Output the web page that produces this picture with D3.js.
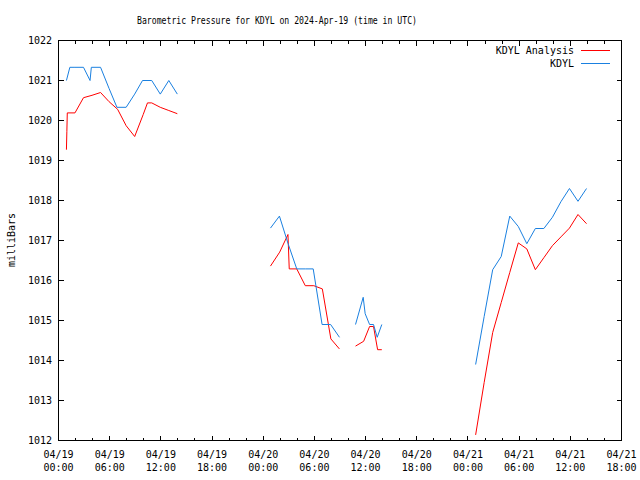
<!DOCTYPE html>
<html>
<head>
<meta charset="utf-8">
<script src="https://cdn.jsdelivr.net/npm/d3@7"></script>
<style>
  html, body { margin: 0; padding: 0; background: #fff; }
  svg { display: block; }
  text { font-family: "DejaVu Sans Mono", "Liberation Mono", monospace; font-size: 10px; fill: #000; }
</style>
</head>
<body>
<svg id="chart" width="640" height="480"></svg>
<script>
// ---- data (hours since 2024-04-19 00:00 UTC; null = gap) ----
const analysisHours = [0.93,0.98,1.03,1.93,2.93,3.93,4.93,5.93,6.93,7.93,8.93,9.93,10.43,10.93,11.93,12.93,13.93,
  null,24.85,25.93,26.9,27.05,27.93,28.93,29.93,30.93,31.93,32.93,
  null,34.82,35.77,36.47,36.93,37.41,37.9,
  null,48.9,49.9,50.9,51.9,52.9,53.9,54.9,55.9,56.9,57.9,58.9,59.9,60.9,61.9];
const analysisValues = [1019.27,1019.73,1020.19,1020.19,1020.57,1020.63,1020.7,1020.47,1020.28,1019.87,1019.6,1020.15,1020.44,1020.44,1020.33,1020.25,1020.17,
  null,1016.36,1016.71,1017.15,1016.29,1016.29,1015.87,1015.87,1015.79,1014.54,1014.29,
  null,1014.36,1014.48,1014.85,1014.85,1014.27,1014.27,
  null,1012.14,1013.45,1014.7,1015.45,1016.2,1016.94,1016.79,1016.27,1016.57,1016.87,1017.09,1017.31,1017.65,1017.42];

const obsHours = [0.93,1.33,1.93,2.93,3.7,3.85,4.93,5.93,6.85,7.93,8.93,9.85,10.93,11.93,12.93,13.93,
  null,24.85,25.9,26.9,27.93,28.93,29.86,30.9,31.9,32.94,
  null,34.82,35.72,35.95,36.47,36.93,37.36,37.9,
  null,48.9,49.9,50.9,51.9,52.9,53.9,54.9,55.9,56.9,57.9,58.9,59.9,60.9,61.9];
const obsValues = [1021.0,1021.33,1021.33,1021.33,1021.0,1021.33,1021.33,1020.8,1020.33,1020.33,1020.66,1021.0,1021.0,1020.66,1021.0,1020.66,
  null,1017.31,1017.61,1016.93,1016.29,1016.29,1016.29,1014.9,1014.9,1014.58,
  null,1014.9,1015.58,1015.17,1014.9,1014.9,1014.58,1014.9,
  null,1013.9,1015.1,1016.27,1016.6,1017.61,1017.35,1016.92,1017.3,1017.3,1017.58,1017.97,1018.3,1017.98,1018.3];

const seriesNames = ["KDYL Analysis", "KDYL"];
const seriesColors = ["#ff0000", "#1a80e0"];
const yTicks = [1012,1013,1014,1015,1016,1017,1018,1019,1020,1021,1022];
const titleText = "Barometric Pressure for KDYL on 2024-Apr-19 (time in UTC)";
const yLabel = "milliBars";

// ---- layout ----
const svg = d3.select("#chart");
const L = 58.5, R = 621.5, T = 40.5, B = 440.5;
const t0 = Date.UTC(2024, 3, 19, 0);
const toDate = h => new Date(t0 + h * 3600000);

const x = d3.scaleUtc().domain([toDate(0), toDate(66)]).range([L, R]);
const y = d3.scaleLinear().domain([1012, 1022]).range([B, T]);

const g = svg.append("g");

// border
g.append("rect").attr("x", L).attr("y", T).attr("width", R - L).attr("height", B - T)
  .attr("fill", "none").attr("stroke", "#000").attr("stroke-width", 1)
  .attr("shape-rendering", "crispEdges");

// x ticks: minor every 2h, major every 6h (bottom & top, inward)
const minorTicks = x.ticks(d3.utcHour.every(2));
const majorTicks = x.ticks(d3.utcHour.every(6));
const tickG = g.append("g").attr("stroke", "#000").attr("shape-rendering", "crispEdges");
minorTicks.forEach(d => {
  const xx = Math.round(x(d) - 0.5) + 0.5;
  const isMajor = d.getUTCHours() % 6 === 0;
  const len = isMajor ? 5 : 3;
  tickG.append("line").attr("x1", xx).attr("x2", xx).attr("y1", B).attr("y2", B - len);
  tickG.append("line").attr("x1", xx).attr("x2", xx).attr("y1", T).attr("y2", T + len);
});
yTicks.forEach(v => {
  const yy = Math.round(y(v) - 0.5) + 0.5;
  tickG.append("line").attr("x1", L).attr("x2", L + 5).attr("y1", yy).attr("y2", yy);
  tickG.append("line").attr("x1", R).attr("x2", R - 5).attr("y1", yy).attr("y2", yy);
});

// x tick labels (two lines)
const fmtDate = d3.utcFormat("%m/%d");
const fmtTime = d3.utcFormat("%H:%M");
majorTicks.forEach(d => {
  g.append("text").attr("x", x(d)).attr("y", 458).attr("text-anchor", "middle").text(fmtDate(d));
  g.append("text").attr("x", x(d)).attr("y", 471).attr("text-anchor", "middle").text(fmtTime(d));
});

// y tick labels
yTicks.forEach(v => {
  g.append("text").attr("x", 52).attr("y", y(v) + 3.6).attr("text-anchor", "end").text(v);
});

// title
g.append("text").attr("x", 277).attr("y", 24).attr("text-anchor", "middle")
  .attr("textLength", 280).attr("lengthAdjust", "spacingAndGlyphs").text(titleText);

// y label
g.append("text").attr("transform", "translate(15,240) rotate(-90)")
  .attr("text-anchor", "middle").text(yLabel);

// lines
const line = d3.line()
  .defined(d => d.v != null && d.h != null)
  .x(d => x(toDate(d.h)))
  .y(d => y(d.v));

const seriesData = [
  analysisHours.map((h, i) => ({h, v: analysisValues[i]})),
  obsHours.map((h, i) => ({h, v: obsValues[i]}))
];

seriesData.forEach((data, i) => {
  g.append("path").datum(data).attr("d", line)
    .attr("fill", "none").attr("stroke", seriesColors[i]).attr("stroke-width", 1);
});

// legend
seriesNames.forEach((name, i) => {
  const ly = 50 + i * 13;
  g.append("text").attr("x", 574).attr("y", ly + 3.6).attr("text-anchor", "end").text(name);
  g.append("line").attr("x1", 581).attr("x2", 610).attr("y1", ly + 0.5).attr("y2", ly + 0.5)
    .attr("stroke", seriesColors[i]).attr("stroke-width", 1).attr("shape-rendering", "crispEdges");
});
</script>
</body>
</html>
